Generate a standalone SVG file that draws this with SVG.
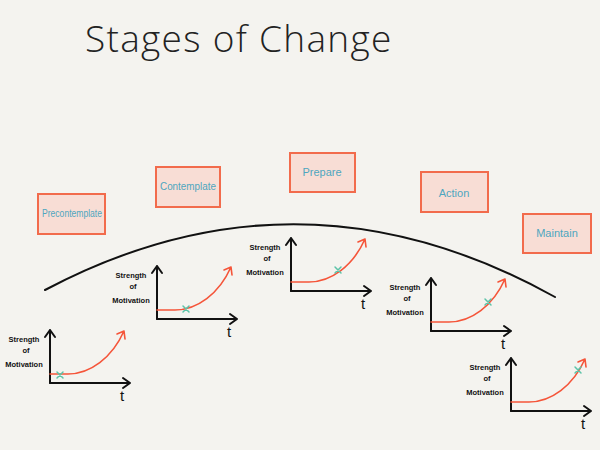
<svg xmlns="http://www.w3.org/2000/svg" xmlns:xlink="http://www.w3.org/1999/xlink" width="600" height="450" viewBox="0 0 600 450">
<style>
.title{font-family:"Open Sans","Liberation Sans",sans-serif;font-weight:300;font-size:37px;fill:#222;letter-spacing:1.3px}
.box{fill:#f8ddd5;stroke:#f26b4c;stroke-width:2}
.stage{font-family:"Liberation Sans","DejaVu Sans",sans-serif;font-size:11px;fill:#4ea6bf;text-anchor:middle}
.ax{fill:none;stroke:#111;stroke-width:2;stroke-linecap:round;stroke-linejoin:round}
.cv{fill:none;stroke:#f5553a;stroke-width:1.6;stroke-linecap:round;stroke-linejoin:round}
.lab{font-family:"Liberation Sans",sans-serif;font-size:7.5px;fill:#111;text-anchor:middle;font-weight:bold}
.t{font-family:"Liberation Sans",sans-serif;font-size:15px;fill:#111;text-anchor:middle}
.mk{fill:none;stroke:#5cc3a8;stroke-width:1.5;stroke-linecap:round}
.arc{fill:none;stroke:#111;stroke-width:2;stroke-linecap:round}
</style>
<defs>
<g id="graph">
<path class="ax" d="M0,0 V-53 M-5,-46 L0,-53 L5,-46"/>
<path class="ax" d="M0,0 H80 M73,-5 L80,0 L73,5"/>
<path class="cv" d="M0,-9 H18 C40,-9 62,-25 74,-52 M67,-49 L74,-52 L75,-44"/>
<text class="lab" x="-26" y="-41">Strength</text>
<text class="lab" x="-24" y="-30" font-size="6px">of</text>
<text class="lab" x="-26" y="-16">Motivation</text>
<text class="t" x="72" y="18">t</text>
</g>
<path id="x" class="mk" d="M-3,-3 L3,3 M3,-3 L-3,3"/>
</defs>
<rect width="600" height="450" fill="#f4f3ef"/>
<text class="title" x="85" y="52">Stages of Change</text>
<g id="connectors">
<path class="arc" d="M45,290 Q300,155 555,297"/>
</g>
<g id="precontemplate">
<rect class="box" x="38" y="194" width="67" height="40"/>
<text class="stage" x="72" y="217" font-size="8.5px" textLength="60" lengthAdjust="spacingAndGlyphs">Precontemplate</text>
</g>
<g id="contemplate">
<rect class="box" x="156" y="167" width="64" height="40"/>
<text class="stage" x="188" y="190" font-size="10px" textLength="56" lengthAdjust="spacingAndGlyphs">Contemplate</text>
</g>
<g id="prepare">
<rect class="box" x="290" y="153" width="65" height="39"/>
<text class="stage" x="322" y="176">Prepare</text>
</g>
<g id="action">
<rect class="box" x="421" y="172" width="67" height="40"/>
<text class="stage" x="454" y="197" font-size="13px">Action</text>
</g>
<g id="maintain">
<rect class="box" x="523" y="214" width="68" height="39"/>
<text class="stage" x="557" y="237">Maintain</text>
</g>
<g id="graph1" transform="translate(50,383)">
<use xlink:href="#graph"/>
<use xlink:href="#x" x="10" y="-8"/>
</g>
<g id="graph2" transform="translate(157,319)">
<use xlink:href="#graph"/>
<use xlink:href="#x" x="29" y="-10"/>
</g>
<g id="graph3" transform="translate(291,291)">
<use xlink:href="#graph"/>
<use xlink:href="#x" x="47" y="-21"/>
</g>
<g id="graph4" transform="translate(431,331)">
<use xlink:href="#graph"/>
<use xlink:href="#x" x="57" y="-29"/>
</g>
<g id="graph5" transform="translate(511,411)">
<use xlink:href="#graph"/>
<use xlink:href="#x" x="67" y="-41"/>
</g>
</svg>
